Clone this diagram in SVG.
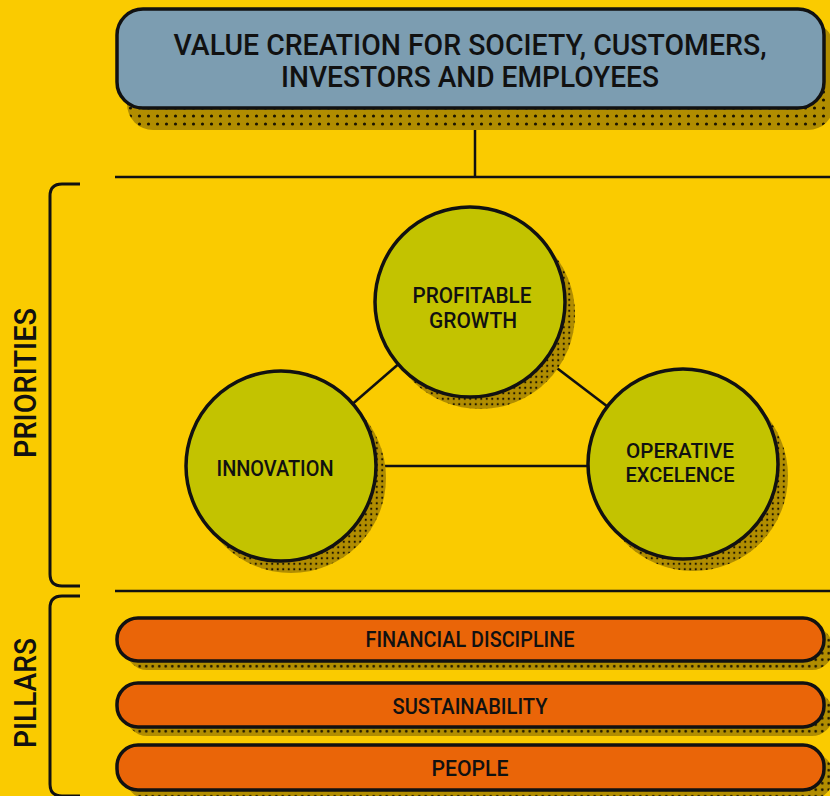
<svg xmlns="http://www.w3.org/2000/svg" width="830" height="796" viewBox="0 0 830 796">
<defs>
<pattern id="dotsL" width="9" height="8" patternUnits="userSpaceOnUse">
<rect width="9" height="8" fill="#B18D00"/>
<circle cx="4.5" cy="4" r="1.6" fill="#1a1400"/>
</pattern>
<pattern id="dotsS" width="5.5" height="5.5" patternUnits="userSpaceOnUse">
<rect width="5.5" height="5.5" fill="#B18D00"/>
<circle cx="2.75" cy="2.75" r="1.1" fill="#1a1400"/>
</pattern>
<pattern id="dotsM" width="6.5" height="6.5" patternUnits="userSpaceOnUse">
<rect width="6.5" height="6.5" fill="#B18D00"/>
<circle cx="3.25" cy="3.25" r="1.3" fill="#1a1400"/>
</pattern>
</defs>
<style>
.t{font-family:Roboto,"Liberation Sans",sans-serif;font-weight:500;fill:#111;text-anchor:middle}
.ln{stroke:#111;stroke-width:2.5;fill:none}
.br{stroke:#111;stroke-width:3;fill:none}
.circ{fill:#C3C300;stroke:#111;stroke-width:3.5}
.bar{fill:#EA6508;stroke:#111;stroke-width:3.5}
</style>
<rect width="830" height="796" fill="#FACB00"/>

<g id="connectors">
<line class="ln" x1="475" y1="130" x2="475" y2="177"/>
<line class="ln" x1="115" y1="177" x2="830" y2="177"/>
<line class="ln" x1="115" y1="591" x2="830" y2="591"/>
<line class="ln" x1="281" y1="466" x2="470" y2="302"/>
<line class="ln" x1="470" y1="302" x2="683" y2="464"/>
<line class="ln" x1="281" y1="466" x2="683" y2="466"/>
</g>

<g id="brackets">
<path class="br" d="M80 184 H62 Q50 184 50 196 V574 Q50 586 62 586 H80"/>
<path class="br" d="M80 596 H62 Q50 596 50 608 V784 Q50 796 62 796 H80"/>
<text class="t" transform="translate(36,383) rotate(-90)" font-size="31" font-weight="400" textLength="150" lengthAdjust="spacingAndGlyphs">PRIORITIES</text>
<text class="t" transform="translate(36,693) rotate(-90)" font-size="31" font-weight="400" textLength="110" lengthAdjust="spacingAndGlyphs">PILLARS</text>
</g>

<g id="top-box">
<rect x="127" y="22" width="707" height="108" rx="26" fill="url(#dotsL)"/>
<rect x="117" y="9" width="707" height="99" rx="26" fill="#7C9DB1" stroke="#111" stroke-width="3.5"/>
<text class="t" x="470" y="55" font-size="30" textLength="593" lengthAdjust="spacingAndGlyphs">VALUE CREATION FOR SOCIETY, CUSTOMERS,</text>
<text class="t" x="470" y="87" font-size="30" textLength="378" lengthAdjust="spacingAndGlyphs">INVESTORS AND EMPLOYEES</text>
</g>

<g id="profitable-growth">
<circle cx="480" cy="314" r="95" fill="url(#dotsS)"/>
<circle class="circ" cx="470" cy="302" r="95"/>
<text class="t" x="472" y="303" font-size="22" textLength="119" lengthAdjust="spacingAndGlyphs">PROFITABLE</text>
<text class="t" x="473" y="328" font-size="22" textLength="88" lengthAdjust="spacingAndGlyphs">GROWTH</text>
</g>

<g id="innovation">
<circle cx="291" cy="478" r="95" fill="url(#dotsS)"/>
<circle class="circ" cx="281" cy="466" r="95"/>
<text class="t" x="275" y="476" font-size="22" textLength="117" lengthAdjust="spacingAndGlyphs">INNOVATION</text>
</g>

<g id="operative-excelence">
<circle cx="693" cy="476" r="95" fill="url(#dotsS)"/>
<circle class="circ" cx="683" cy="464" r="95"/>
<text class="t" x="680" y="458" font-size="21" textLength="108" lengthAdjust="spacingAndGlyphs">OPERATIVE</text>
<text class="t" x="680" y="482" font-size="21" textLength="109" lengthAdjust="spacingAndGlyphs">EXCELENCE</text>
</g>

<g id="financial-discipline">
<rect x="126" y="627" width="707" height="43" rx="21" fill="url(#dotsM)"/>
<rect class="bar" x="117" y="618" width="707" height="43" rx="21"/>
<text class="t" x="470" y="647" font-size="22" textLength="209" lengthAdjust="spacingAndGlyphs">FINANCIAL DISCIPLINE</text>
</g>

<g id="sustainability">
<rect x="126" y="692" width="707" height="44" rx="21" fill="url(#dotsM)"/>
<rect class="bar" x="117" y="683" width="707" height="44" rx="21"/>
<text class="t" x="470" y="714" font-size="22" textLength="155" lengthAdjust="spacingAndGlyphs">SUSTAINABILITY</text>
</g>

<g id="people">
<rect x="126" y="753" width="707" height="46" rx="21" fill="url(#dotsM)"/>
<rect class="bar" x="117" y="745" width="707" height="45" rx="21"/>
<text class="t" x="470" y="776" font-size="22" textLength="77" lengthAdjust="spacingAndGlyphs">PEOPLE</text>
</g>
</svg>
